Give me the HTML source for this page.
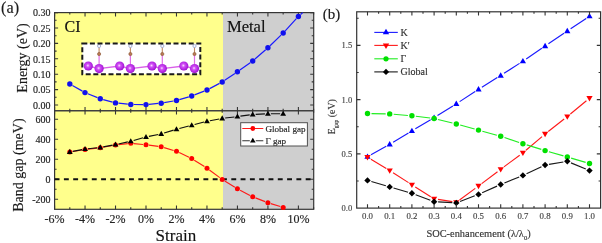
<!DOCTYPE html>
<html><head><meta charset="utf-8"><style>
html,body{margin:0;padding:0;background:#fff;width:602px;height:243px;overflow:hidden}
svg{display:block;font-family:"Liberation Serif", serif;will-change:transform}
text{stroke-width:0.15px}
</style></head><body>
<svg width="602" height="243" viewBox="0 0 602 243">
<rect x="54.6" y="12.6" width="168.4" height="196.70000000000002" fill="#ffff8c"/>
<rect x="223.0" y="12.6" width="90.69999999999999" height="196.70000000000002" fill="#cfcfcf"/>
<rect x="82.3" y="43.4" width="118.00000000000001" height="30.800000000000004" fill="#ffffff"/>
<polyline points="88.3,66 99.1,68.6 119.7,66 130.4,68.6 152.0,66 162.3,68.6 183.8,66 194.5,68.6" fill="none" stroke="#d860e8" stroke-width="1.3"/>
<defs><radialGradient id="pg" cx="0.45" cy="0.45" r="0.6"><stop offset="0" stop-color="#fbe0ff"/><stop offset="0.3" stop-color="#d050f5"/><stop offset="0.75" stop-color="#b020e0"/><stop offset="1" stop-color="#8a10b8"/></radialGradient></defs>
<line x1="99.1" y1="54" x2="99.1" y2="64" stroke="#e070e8" stroke-width="1.2"/>
<line x1="99.1" y1="47" x2="99.1" y2="54" stroke="#c08860" stroke-width="1.1"/>
<circle cx="99.1" cy="54" r="1.6" fill="#b87c54" stroke="#8a5030" stroke-width="0.6"/>
<circle cx="99.1" cy="46" r="1.6" fill="#f4f6ff" stroke="#98a4cc" stroke-width="0.8"/>
<line x1="130.4" y1="54" x2="130.4" y2="64" stroke="#e070e8" stroke-width="1.2"/>
<line x1="130.4" y1="47" x2="130.4" y2="54" stroke="#c08860" stroke-width="1.1"/>
<circle cx="130.4" cy="54" r="1.6" fill="#b87c54" stroke="#8a5030" stroke-width="0.6"/>
<circle cx="130.4" cy="46" r="1.6" fill="#f4f6ff" stroke="#98a4cc" stroke-width="0.8"/>
<line x1="162.3" y1="54" x2="162.3" y2="64" stroke="#e070e8" stroke-width="1.2"/>
<line x1="162.3" y1="47" x2="162.3" y2="54" stroke="#c08860" stroke-width="1.1"/>
<circle cx="162.3" cy="54" r="1.6" fill="#b87c54" stroke="#8a5030" stroke-width="0.6"/>
<circle cx="162.3" cy="46" r="1.6" fill="#f4f6ff" stroke="#98a4cc" stroke-width="0.8"/>
<line x1="194.5" y1="54" x2="194.5" y2="64" stroke="#e070e8" stroke-width="1.2"/>
<line x1="194.5" y1="47" x2="194.5" y2="54" stroke="#c08860" stroke-width="1.1"/>
<circle cx="194.5" cy="54" r="1.6" fill="#b87c54" stroke="#8a5030" stroke-width="0.6"/>
<circle cx="194.5" cy="46" r="1.6" fill="#f4f6ff" stroke="#98a4cc" stroke-width="0.8"/>
<circle cx="88.3" cy="66" r="4.6" fill="url(#pg)"/>
<circle cx="99.1" cy="68.6" r="4.6" fill="url(#pg)"/>
<circle cx="119.7" cy="66" r="4.6" fill="url(#pg)"/>
<circle cx="130.4" cy="68.6" r="4.6" fill="url(#pg)"/>
<circle cx="152.0" cy="66" r="4.6" fill="url(#pg)"/>
<circle cx="162.3" cy="68.6" r="4.6" fill="url(#pg)"/>
<circle cx="183.8" cy="66" r="4.6" fill="url(#pg)"/>
<circle cx="194.5" cy="68.6" r="4.6" fill="url(#pg)"/>
<rect x="82.3" y="43.4" width="118.00000000000001" height="30.800000000000004" fill="none" stroke="#1a1a1a" stroke-width="2" stroke-dasharray="5 2.6"/>
<rect x="54.6" y="12.6" width="259.09999999999997" height="196.70000000000002" fill="none" stroke="#363636" stroke-width="1.2"/>
<line x1="54.6" y1="110.8" x2="313.7" y2="110.8" stroke="#404040" stroke-width="1.5"/>
<path d="M54.56 12.6v3.8 M54.56 110.8v-3.8 M54.56 110.8v3.8 M54.56 209.3v-3.8 M69.80 12.6v2.0 M69.80 110.8v-2.0 M69.80 110.8v2.0 M69.80 209.3v-2.0 M85.04 12.6v3.8 M85.04 110.8v-3.8 M85.04 110.8v3.8 M85.04 209.3v-3.8 M100.28 12.6v2.0 M100.28 110.8v-2.0 M100.28 110.8v2.0 M100.28 209.3v-2.0 M115.52 12.6v3.8 M115.52 110.8v-3.8 M115.52 110.8v3.8 M115.52 209.3v-3.8 M130.76 12.6v2.0 M130.76 110.8v-2.0 M130.76 110.8v2.0 M130.76 209.3v-2.0 M146.00 12.6v3.8 M146.00 110.8v-3.8 M146.00 110.8v3.8 M146.00 209.3v-3.8 M161.24 12.6v2.0 M161.24 110.8v-2.0 M161.24 110.8v2.0 M161.24 209.3v-2.0 M176.48 12.6v3.8 M176.48 110.8v-3.8 M176.48 110.8v3.8 M176.48 209.3v-3.8 M191.72 12.6v2.0 M191.72 110.8v-2.0 M191.72 110.8v2.0 M191.72 209.3v-2.0 M206.96 12.6v3.8 M206.96 110.8v-3.8 M206.96 110.8v3.8 M206.96 209.3v-3.8 M222.20 12.6v2.0 M222.20 110.8v-2.0 M222.20 110.8v2.0 M222.20 209.3v-2.0 M237.44 12.6v3.8 M237.44 110.8v-3.8 M237.44 110.8v3.8 M237.44 209.3v-3.8 M252.68 12.6v2.0 M252.68 110.8v-2.0 M252.68 110.8v2.0 M252.68 209.3v-2.0 M267.92 12.6v3.8 M267.92 110.8v-3.8 M267.92 110.8v3.8 M267.92 209.3v-3.8 M283.16 12.6v2.0 M283.16 110.8v-2.0 M283.16 110.8v2.0 M283.16 209.3v-2.0 M298.40 12.6v3.8 M298.40 110.8v-3.8 M298.40 110.8v3.8 M298.40 209.3v-3.8 M313.64 12.6v2.0 M313.64 110.8v-2.0 M313.64 110.8v2.0 M313.64 209.3v-2.0 M54.6 105.00h3.5 M313.7 105.00h-3.5 M54.6 97.30h2.0 M313.7 97.30h-2.0 M54.6 89.60h3.5 M313.7 89.60h-3.5 M54.6 81.90h2.0 M313.7 81.90h-2.0 M54.6 74.20h3.5 M313.7 74.20h-3.5 M54.6 66.50h2.0 M313.7 66.50h-2.0 M54.6 58.80h3.5 M313.7 58.80h-3.5 M54.6 51.10h2.0 M313.7 51.10h-2.0 M54.6 43.40h3.5 M313.7 43.40h-3.5 M54.6 35.70h2.0 M313.7 35.70h-2.0 M54.6 28.00h3.5 M313.7 28.00h-3.5 M54.6 20.30h2.0 M313.7 20.30h-2.0 M54.6 12.60h3.5 M313.7 12.60h-3.5 M54.6 199.20h3.5 M313.7 199.20h-3.5 M54.6 189.20h2.0 M313.7 189.20h-2.0 M54.6 179.20h3.5 M313.7 179.20h-3.5 M54.6 169.20h2.0 M313.7 169.20h-2.0 M54.6 159.20h3.5 M313.7 159.20h-3.5 M54.6 149.20h2.0 M313.7 149.20h-2.0 M54.6 139.20h3.5 M313.7 139.20h-3.5 M54.6 129.20h2.0 M313.7 129.20h-2.0 M54.6 119.20h3.5 M313.7 119.20h-3.5" stroke="#363636" stroke-width="1.1" fill="none"/>
<line x1="54.6" y1="179.2" x2="313.7" y2="179.2" stroke="#111" stroke-width="2" stroke-dasharray="4.9 4.4"/>
<path d="M72.41 85.47L82.43 91.13M87.82 93.73L97.50 97.67M103.18 99.58L112.62 102.12M118.50 103.21L127.78 104.19M133.76 104.52L143.00 104.58M148.99 104.33L158.25 103.47M164.19 102.68L173.53 101.02M179.36 99.65L188.84 96.85M194.51 94.90L204.17 91.10M209.62 88.61L219.54 83.39M224.69 80.33L234.95 73.47M239.89 70.07L250.23 62.73M254.95 59.04L265.65 49.76M270.07 45.71L281.01 35.09M285.20 30.80L296.36 18.70M300.62 14.48L302.70 12.60" fill="none" stroke="#1a1aff" stroke-width="1.2"/>
<circle cx="69.8" cy="84" r="2.7" fill="#1010ee"/>
<circle cx="85.0" cy="92.6" r="2.7" fill="#1010ee"/>
<circle cx="100.3" cy="98.8" r="2.7" fill="#1010ee"/>
<circle cx="115.5" cy="102.9" r="2.7" fill="#1010ee"/>
<circle cx="130.8" cy="104.5" r="2.7" fill="#1010ee"/>
<circle cx="146.0" cy="104.6" r="2.7" fill="#1010ee"/>
<circle cx="161.2" cy="103.2" r="2.7" fill="#1010ee"/>
<circle cx="176.5" cy="100.5" r="2.7" fill="#1010ee"/>
<circle cx="191.7" cy="96" r="2.7" fill="#1010ee"/>
<circle cx="207.0" cy="90" r="2.7" fill="#1010ee"/>
<circle cx="222.2" cy="82" r="2.7" fill="#1010ee"/>
<circle cx="237.4" cy="71.8" r="2.7" fill="#1010ee"/>
<circle cx="252.7" cy="61" r="2.7" fill="#1010ee"/>
<circle cx="267.9" cy="47.8" r="2.7" fill="#1010ee"/>
<circle cx="283.2" cy="33" r="2.7" fill="#1010ee"/>
<circle cx="298.4" cy="16.5" r="2.7" fill="#1010ee"/>
<path d="M72.76 151.51L82.08 149.99M88.02 149.17L97.30 148.13M103.23 147.26L112.57 145.54M118.50 144.67L127.78 143.63M133.75 143.59L143.01 144.51M148.97 145.19L158.27 146.41M164.12 147.65L173.60 150.45M179.19 152.60L189.01 157.30M194.26 160.20L204.42 166.60M209.38 169.98L219.78 177.62M224.75 180.97L234.89 187.23M240.10 190.19L250.02 195.41M255.48 197.88L265.12 201.62M270.79 203.58L280.29 206.52" fill="none" stroke="#ff1a1a" stroke-width="1.15"/>
<circle cx="69.8" cy="152" r="2.5" fill="#ff0000"/>
<circle cx="85.0" cy="149.5" r="2.5" fill="#ff0000"/>
<circle cx="100.3" cy="147.8" r="2.5" fill="#ff0000"/>
<circle cx="115.5" cy="145" r="2.5" fill="#ff0000"/>
<circle cx="130.8" cy="143.3" r="2.5" fill="#ff0000"/>
<circle cx="146.0" cy="144.8" r="2.5" fill="#ff0000"/>
<circle cx="161.2" cy="146.8" r="2.5" fill="#ff0000"/>
<circle cx="176.5" cy="151.3" r="2.5" fill="#ff0000"/>
<circle cx="191.7" cy="158.6" r="2.5" fill="#ff0000"/>
<circle cx="207.0" cy="168.2" r="2.5" fill="#ff0000"/>
<circle cx="222.2" cy="179.4" r="2.5" fill="#ff0000"/>
<circle cx="237.4" cy="188.8" r="2.5" fill="#ff0000"/>
<circle cx="252.7" cy="196.8" r="2.5" fill="#ff0000"/>
<circle cx="267.9" cy="202.7" r="2.5" fill="#ff0000"/>
<circle cx="283.2" cy="207.4" r="2.5" fill="#ff0000"/>
<path d="M72.75 151.36L82.09 149.64M88.02 148.77L97.30 147.73M103.23 146.86L112.57 145.14M118.45 143.97L127.83 141.93M133.65 140.49L143.11 137.81M148.94 136.40L158.30 134.50M164.11 133.02L173.61 130.08M179.38 128.44L188.82 125.96M194.63 124.46L204.05 122.04M209.91 120.74L219.25 118.96M225.18 118.05L234.46 116.95M240.41 116.19L249.71 114.91M255.68 114.34L264.92 113.86M270.92 113.70L280.16 113.70" fill="none" stroke="#111" stroke-width="1.15"/>
<polygon points="69.80,148.87 66.90,153.92 72.70,153.92" fill="#000"/>
<polygon points="85.04,146.07 82.14,151.12 87.94,151.12" fill="#000"/>
<polygon points="100.28,144.37 97.38,149.42 103.18,149.42" fill="#000"/>
<polygon points="115.52,141.57 112.62,146.62 118.42,146.62" fill="#000"/>
<polygon points="130.76,138.27 127.86,143.32 133.66,143.32" fill="#000"/>
<polygon points="146.00,133.97 143.10,139.02 148.90,139.02" fill="#000"/>
<polygon points="161.24,130.87 158.34,135.92 164.14,135.92" fill="#000"/>
<polygon points="176.48,126.17 173.58,131.22 179.38,131.22" fill="#000"/>
<polygon points="191.72,122.17 188.82,127.22 194.62,127.22" fill="#000"/>
<polygon points="206.96,118.27 204.06,123.32 209.86,123.32" fill="#000"/>
<polygon points="222.20,115.37 219.30,120.42 225.10,120.42" fill="#000"/>
<polygon points="237.44,113.57 234.54,118.62 240.34,118.62" fill="#000"/>
<polygon points="252.68,111.47 249.78,116.52 255.58,116.52" fill="#000"/>
<polygon points="267.92,110.67 265.02,115.72 270.82,115.72" fill="#000"/>
<polygon points="283.16,110.67 280.26,115.72 286.06,115.72" fill="#000"/>
<rect x="240.7" y="122.7" width="66.7" height="23.3" fill="#fff" stroke="#505050" stroke-width="1"/>
<path d="M242.30 128.50L252.80 128.50M252.80 128.50L263.30 128.50" fill="none" stroke="#ff1a1a" stroke-width="1.05"/>
<circle cx="252.8" cy="128.5" r="2.4" fill="#ff0000"/>
<path d="M242.3 140.8H249.8M255.8 140.8H263.3" stroke="#333" stroke-width="1.05" fill="none"/>
<polygon points="252.80,137.68 250.00,142.55 255.60,142.55" fill="#000"/>
<text x="265.4" y="131.8" font-size="9.1" fill="#222" stroke="#222">Global gap</text>
<text x="265.4" y="144.1" font-size="9.1" fill="#222" stroke="#222">Γ gap</text>
<text x="1" y="13.2" font-size="16.3" fill="#1a1a1a" stroke="#1a1a1a" stroke-width="0.2">(a)</text>
<text x="50.6" y="16.4" font-size="10" text-anchor="end" fill="#222" stroke="#222">0.30</text>
<text x="50.6" y="31.8" font-size="10" text-anchor="end" fill="#222" stroke="#222">0.25</text>
<text x="50.6" y="47.2" font-size="10" text-anchor="end" fill="#222" stroke="#222">0.20</text>
<text x="50.6" y="62.6" font-size="10" text-anchor="end" fill="#222" stroke="#222">0.15</text>
<text x="50.6" y="78.0" font-size="10" text-anchor="end" fill="#222" stroke="#222">0.10</text>
<text x="50.6" y="93.4" font-size="10" text-anchor="end" fill="#222" stroke="#222">0.05</text>
<text x="50.6" y="108.8" font-size="10" text-anchor="end" fill="#222" stroke="#222">0.00</text>
<text x="50.6" y="123.0" font-size="10" text-anchor="end" fill="#222" stroke="#222">600</text>
<text x="50.6" y="143.0" font-size="10" text-anchor="end" fill="#222" stroke="#222">400</text>
<text x="50.6" y="163.0" font-size="10" text-anchor="end" fill="#222" stroke="#222">200</text>
<text x="50.6" y="183.0" font-size="10" text-anchor="end" fill="#222" stroke="#222">0</text>
<text x="50.6" y="203.0" font-size="10" text-anchor="end" fill="#222" stroke="#222">-200</text>
<text x="54.6" y="223" font-size="12" text-anchor="middle" fill="#222" stroke="#222">-6%</text>
<text x="85.0" y="223" font-size="12" text-anchor="middle" fill="#222" stroke="#222">-4%</text>
<text x="115.5" y="223" font-size="12" text-anchor="middle" fill="#222" stroke="#222">-2%</text>
<text x="146.0" y="223" font-size="12" text-anchor="middle" fill="#222" stroke="#222">0%</text>
<text x="176.5" y="223" font-size="12" text-anchor="middle" fill="#222" stroke="#222">2%</text>
<text x="207.0" y="223" font-size="12" text-anchor="middle" fill="#222" stroke="#222">4%</text>
<text x="237.4" y="223" font-size="12" text-anchor="middle" fill="#222" stroke="#222">6%</text>
<text x="267.9" y="223" font-size="12" text-anchor="middle" fill="#222" stroke="#222">8%</text>
<text x="298.4" y="223" font-size="12" text-anchor="middle" fill="#222" stroke="#222">10%</text>
<text x="175.9" y="241.3" font-size="17" text-anchor="middle" fill="#111" stroke="#111" stroke-width="0.2">Strain</text>
<text transform="translate(27.3 58) rotate(-90)" font-size="14" text-anchor="middle" fill="#1a1a1a" stroke="#1a1a1a" stroke-width="0.2">Energy (eV)</text>
<text transform="translate(23.4 165.1) rotate(-90)" font-size="14" text-anchor="middle" fill="#1a1a1a" stroke="#1a1a1a" stroke-width="0.2">Band gap (meV)</text>
<text x="64.5" y="31.7" font-size="16" fill="#111" stroke="#111" stroke-width="0.2">CI</text>
<text x="226.9" y="32.1" font-size="16.6" fill="#111" stroke="#111" stroke-width="0.2">Metal</text>
<path d="M370.99 154.75L386.21 146.25M393.12 142.23L408.48 132.97M415.34 128.86L430.66 119.74M437.49 115.58L452.91 105.92M459.65 101.61L475.15 91.49M481.90 87.19L497.30 77.61M504.06 73.33L519.54 63.37M526.21 58.95L541.79 48.35M548.41 43.85L563.99 33.25M570.63 28.78L586.17 18.42" fill="none" stroke="#1a1aff" stroke-width="1.15"/>
<polygon points="367.50,153.46 364.40,158.86 370.60,158.86" fill="#0000ff"/>
<polygon points="389.70,141.06 386.60,146.46 392.80,146.46" fill="#0000ff"/>
<polygon points="411.90,127.66 408.80,133.06 415.00,133.06" fill="#0000ff"/>
<polygon points="434.10,114.46 431.00,119.86 437.20,119.86" fill="#0000ff"/>
<polygon points="456.30,100.56 453.20,105.96 459.40,105.96" fill="#0000ff"/>
<polygon points="478.50,86.06 475.40,91.46 481.60,91.46" fill="#0000ff"/>
<polygon points="500.70,72.26 497.60,77.66 503.80,77.66" fill="#0000ff"/>
<polygon points="522.90,57.96 519.80,63.36 526.00,63.36" fill="#0000ff"/>
<polygon points="545.10,42.86 542.00,48.26 548.20,48.26" fill="#0000ff"/>
<polygon points="567.30,27.76 564.20,33.16 570.40,33.16" fill="#0000ff"/>
<polygon points="589.50,12.96 586.40,18.36 592.60,18.36" fill="#0000ff"/>
<path d="M370.92 159.27L386.28 168.53M393.07 172.76L408.53 182.64M415.28 186.93L430.72 196.67M438.05 199.42L452.35 201.68M459.52 199.93L475.28 188.37M481.70 183.60L497.50 171.70M503.91 166.91L519.69 155.19M525.95 150.21L542.05 136.59M548.25 131.53L564.15 119.07M570.38 114.05L586.42 100.75" fill="none" stroke="#ff1a1a" stroke-width="1.15"/>
<polygon points="367.50,160.44 364.40,155.04 370.60,155.04" fill="#ff0000"/>
<polygon points="389.70,173.84 386.60,168.44 392.80,168.44" fill="#ff0000"/>
<polygon points="411.90,188.04 408.80,182.64 415.00,182.64" fill="#ff0000"/>
<polygon points="434.10,202.04 431.00,196.64 437.20,196.64" fill="#ff0000"/>
<polygon points="456.30,205.54 453.20,200.14 459.40,200.14" fill="#ff0000"/>
<polygon points="478.50,189.24 475.40,183.84 481.60,183.84" fill="#ff0000"/>
<polygon points="500.70,172.54 497.60,167.14 503.80,167.14" fill="#ff0000"/>
<polygon points="522.90,156.04 519.80,150.64 526.00,150.64" fill="#ff0000"/>
<polygon points="545.10,137.24 542.00,131.84 548.20,131.84" fill="#ff0000"/>
<polygon points="567.30,119.84 564.20,114.44 570.40,114.44" fill="#ff0000"/>
<polygon points="589.50,101.44 586.40,96.04 592.60,96.04" fill="#ff0000"/>
<path d="M371.50 113.57L385.70 113.83M393.69 114.24L407.91 115.46M415.87 116.28L430.13 118.02M437.98 119.46L452.42 123.04M460.16 125.06L474.64 129.04M482.35 131.18L496.85 135.22M504.49 137.56L519.11 142.44M526.72 144.89L541.28 149.41M548.94 151.71L563.46 155.89M571.14 158.12L585.66 162.38" fill="none" stroke="#22ee22" stroke-width="1.15"/>
<circle cx="367.5" cy="113.5" r="2.7" fill="#00e000"/>
<circle cx="389.7" cy="113.9" r="2.7" fill="#00e000"/>
<circle cx="411.9" cy="115.8" r="2.7" fill="#00e000"/>
<circle cx="434.1" cy="118.5" r="2.7" fill="#00e000"/>
<circle cx="456.3" cy="124.0" r="2.7" fill="#00e000"/>
<circle cx="478.5" cy="130.1" r="2.7" fill="#00e000"/>
<circle cx="500.7" cy="136.3" r="2.7" fill="#00e000"/>
<circle cx="522.9" cy="143.7" r="2.7" fill="#00e000"/>
<circle cx="545.1" cy="150.6" r="2.7" fill="#00e000"/>
<circle cx="567.3" cy="157.0" r="2.7" fill="#00e000"/>
<circle cx="589.5" cy="163.5" r="2.7" fill="#00e000"/>
<path d="M371.34 181.52L385.86 185.78M393.54 188.01L408.06 192.19M415.64 194.72L430.36 200.28M438.09 201.92L452.31 202.68M460.04 201.47L474.76 195.83M482.15 192.77L497.05 186.13M504.40 182.98L519.20 176.92M526.52 173.70L541.48 166.70M549.05 164.34L563.35 161.96M570.99 162.85L585.81 169.05" fill="none" stroke="#1a1a1a" stroke-width="1.15"/>
<polygon points="367.50,177.20 370.70,180.40 367.50,183.60 364.30,180.40" fill="#000"/>
<polygon points="389.70,183.70 392.90,186.90 389.70,190.10 386.50,186.90" fill="#000"/>
<polygon points="411.90,190.10 415.10,193.30 411.90,196.50 408.70,193.30" fill="#000"/>
<polygon points="434.10,198.50 437.30,201.70 434.10,204.90 430.90,201.70" fill="#000"/>
<polygon points="456.30,199.70 459.50,202.90 456.30,206.10 453.10,202.90" fill="#000"/>
<polygon points="478.50,191.20 481.70,194.40 478.50,197.60 475.30,194.40" fill="#000"/>
<polygon points="500.70,181.30 503.90,184.50 500.70,187.70 497.50,184.50" fill="#000"/>
<polygon points="522.90,172.20 526.10,175.40 522.90,178.60 519.70,175.40" fill="#000"/>
<polygon points="545.10,161.80 548.30,165.00 545.10,168.20 541.90,165.00" fill="#000"/>
<polygon points="567.30,158.10 570.50,161.30 567.30,164.50 564.10,161.30" fill="#000"/>
<polygon points="589.50,167.40 592.70,170.60 589.50,173.80 586.30,170.60" fill="#000"/>
<rect x="356.7" y="11.8" width="243.90000000000003" height="196.29999999999998" fill="none" stroke="#333" stroke-width="1.2"/>
<path d="M367.50 11.8v3.8 M367.50 208.1v-3.8 M378.60 11.8v2.0 M378.60 208.1v-2.0 M389.70 11.8v3.8 M389.70 208.1v-3.8 M400.80 11.8v2.0 M400.80 208.1v-2.0 M411.90 11.8v3.8 M411.90 208.1v-3.8 M423.00 11.8v2.0 M423.00 208.1v-2.0 M434.10 11.8v3.8 M434.10 208.1v-3.8 M445.20 11.8v2.0 M445.20 208.1v-2.0 M456.30 11.8v3.8 M456.30 208.1v-3.8 M467.40 11.8v2.0 M467.40 208.1v-2.0 M478.50 11.8v3.8 M478.50 208.1v-3.8 M489.60 11.8v2.0 M489.60 208.1v-2.0 M500.70 11.8v3.8 M500.70 208.1v-3.8 M511.80 11.8v2.0 M511.80 208.1v-2.0 M522.90 11.8v3.8 M522.90 208.1v-3.8 M534.00 11.8v2.0 M534.00 208.1v-2.0 M545.10 11.8v3.8 M545.10 208.1v-3.8 M556.20 11.8v2.0 M556.20 208.1v-2.0 M567.30 11.8v3.8 M567.30 208.1v-3.8 M578.40 11.8v2.0 M578.40 208.1v-2.0 M589.50 11.8v3.8 M589.50 208.1v-3.8 M356.7 180.97h2.0 M600.6 180.97h-2.0 M356.7 153.85h3.8 M600.6 153.85h-3.8 M356.7 126.72h2.0 M600.6 126.72h-2.0 M356.7 99.60h3.8 M600.6 99.60h-3.8 M356.7 72.47h2.0 M600.6 72.47h-2.0 M356.7 45.35h3.8 M600.6 45.35h-3.8 M356.7 18.22h2.0 M600.6 18.22h-2.0" stroke="#333" stroke-width="1.1" fill="none"/>
<text x="322.7" y="19.2" font-size="15" fill="#1a1a1a" stroke="#1a1a1a" stroke-width="0.2">(b)</text>
<text x="352.2" y="211.2" font-size="8.5" text-anchor="end" fill="#444" stroke="#444">0.0</text>
<text x="352.2" y="156.9" font-size="8.5" text-anchor="end" fill="#444" stroke="#444">0.5</text>
<text x="352.2" y="102.7" font-size="8.5" text-anchor="end" fill="#444" stroke="#444">1.0</text>
<text x="352.2" y="48.4" font-size="8.5" text-anchor="end" fill="#444" stroke="#444">1.5</text>
<text x="367.5" y="219.4" font-size="8.8" text-anchor="middle" fill="#444" stroke="#444">0.0</text>
<text x="389.7" y="219.4" font-size="8.8" text-anchor="middle" fill="#444" stroke="#444">0.1</text>
<text x="411.9" y="219.4" font-size="8.8" text-anchor="middle" fill="#444" stroke="#444">0.2</text>
<text x="434.1" y="219.4" font-size="8.8" text-anchor="middle" fill="#444" stroke="#444">0.3</text>
<text x="456.3" y="219.4" font-size="8.8" text-anchor="middle" fill="#444" stroke="#444">0.4</text>
<text x="478.5" y="219.4" font-size="8.8" text-anchor="middle" fill="#444" stroke="#444">0.5</text>
<text x="500.7" y="219.4" font-size="8.8" text-anchor="middle" fill="#444" stroke="#444">0.6</text>
<text x="522.9" y="219.4" font-size="8.8" text-anchor="middle" fill="#444" stroke="#444">0.7</text>
<text x="545.1" y="219.4" font-size="8.8" text-anchor="middle" fill="#444" stroke="#444">0.8</text>
<text x="567.3" y="219.4" font-size="8.8" text-anchor="middle" fill="#444" stroke="#444">0.9</text>
<text x="589.5" y="219.4" font-size="8.8" text-anchor="middle" fill="#444" stroke="#444">1.0</text>
<text x="426.4" y="237.3" font-size="10.4" fill="#333" stroke="#333">SOC-enhancement (λ/λ<tspan font-size="6.5" dy="3">0</tspan><tspan dy="-3">)</tspan></text>
<text transform="translate(334.8 116.8) rotate(-90)" font-size="9.8" text-anchor="middle" fill="#333" stroke="#333">E<tspan font-size="6" dy="3">gap</tspan><tspan dy="-3"> (eV)</tspan></text>
<line x1="374.3" y1="32.4" x2="397.8" y2="32.4" stroke="#1a1aff" stroke-width="1.1"/>
<polygon points="386.00,28.76 382.80,34.33 389.20,34.33" fill="#0000ff"/>
<text x="400.6" y="35.8" font-size="10" fill="#333" stroke="#333">K</text>
<line x1="374.3" y1="45.4" x2="397.8" y2="45.4" stroke="#ff1a1a" stroke-width="1.1"/>
<polygon points="386.00,49.04 382.80,43.47 389.20,43.47" fill="#ff0000"/>
<text x="400.6" y="48.8" font-size="10" fill="#333" stroke="#333">K'</text>
<line x1="374.3" y1="58.8" x2="397.8" y2="58.8" stroke="#22ee22" stroke-width="1.1"/>
<circle cx="386" cy="58.8" r="2.6" fill="#00e000"/>
<text x="400.6" y="62.199999999999996" font-size="10" fill="#333" stroke="#333">Γ</text>
<line x1="374.3" y1="71.9" x2="397.8" y2="71.9" stroke="#1a1a1a" stroke-width="1.1"/>
<polygon points="386.00,68.80 389.10,71.90 386.00,75.00 382.90,71.90" fill="#000"/>
<text x="400.6" y="75.30000000000001" font-size="10" fill="#333" stroke="#333">Global</text>
</svg>
</body></html>
